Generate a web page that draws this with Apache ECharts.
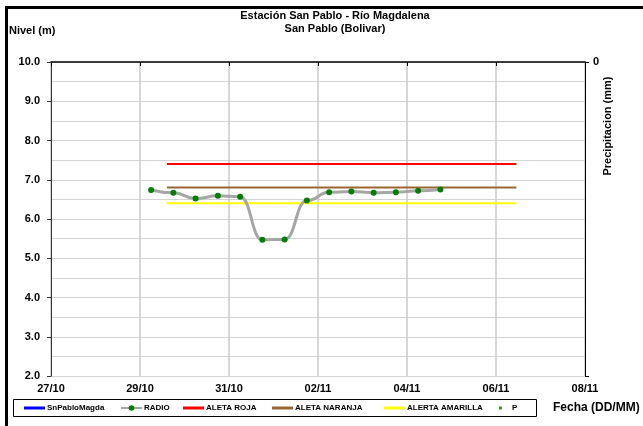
<!DOCTYPE html>
<html>
<head>
<meta charset="utf-8">
<script src="https://cdn.jsdelivr.net/npm/echarts@6/dist/echarts.min.js"></script>
<style>
html,body{margin:0;padding:0;background:#fff;}
#chart{width:643px;height:426px;}
</style>
</head>
<body>
<div id="chart"></div>
<script>
// ---- data ----
var YEAR = 2024;
var xTickLabels = ['27/10','29/10','31/10','02/11','04/11','06/11','08/11'];
var radioTimes = ['29/10 06:00','29/10 18:00','30/10 06:00','30/10 18:00','31/10 06:00','31/10 18:00',
                  '01/11 06:00','01/11 18:00','02/11 06:00','02/11 18:00','03/11 06:00','03/11 18:00',
                  '04/11 06:00','04/11 18:00'];
var radioValues = [6.74, 6.67, 6.52, 6.59, 6.57, 5.47, 5.48, 6.47, 6.68, 6.70, 6.67, 6.68, 6.72, 6.75];
var alertTimes = ['29/10 14:30','06/11 11:00'];
var alertaRoja = [7.4, 7.4];
var alertaNaranja = [6.8, 6.8];
var alertaAmarilla = [6.4, 6.4];
var snPabloValues = [];
var precipValues = [];

function parseT(s){
  var p = s.split(' '), dm = p[0].split('/'), hm = (p[1] || '00:00').split(':');
  return Date.UTC(YEAR, +dm[1]-1, +dm[0], +hm[0], +hm[1]);
}
function pairs(ts, vs){ return ts.map(function(t,i){ return [parseT(t), vs[i]]; }); }

var DAY = 86400000;
var xMin = parseT(xTickLabels[0]);
var xMax = parseT(xTickLabels[xTickLabels.length-1]);
var FONT = 'Liberation Sans, Arial, sans-serif';

var chart = echarts.init(document.getElementById('chart'));
function legendAt(name, left, extra){
  var o = {
    data:[name], left:left, top:404, itemWidth:21, itemHeight:7, itemGap:0,
    padding:0, selectedMode:false,
    textStyle:{fontSize:8, fontWeight:'bold', fontFamily:FONT, color:'#000', padding:[0,0,0,-3]}
  };
  for (var k in extra) o[k] = extra[k];
  return o;
}
var lineIcon = 'rect';
var option = {
  animation:false,
  backgroundColor:'#fff',
  grid:{left:51, right:58, top:62, bottom:50, containLabel:false},
  xAxis:{
    type:'value', min:xMin, max:xMax, interval:2*DAY,
    axisLine:{show:true, lineStyle:{color:'#000', width:1.5}},
    axisTick:{show:true, length:4, lineStyle:{color:'#000'}},
    axisLabel:{margin:7, fontSize:11, fontWeight:'bold', fontFamily:FONT, color:'#000',
      formatter:function(v){ var i=Math.round((v-xMin)/(2*DAY)); return xTickLabels[i]||''; }},
    splitLine:{show:true, lineStyle:{color:'#c8c8c8', width:1.5}}
  },
  yAxis:[{
    type:'value', min:2, max:10, interval:1,
    axisLine:{show:true, lineStyle:{color:'#333', width:1}},
    axisTick:{show:true, length:4, lineStyle:{color:'#333'}},
    axisLabel:{margin:11, fontSize:11, fontWeight:'bold', fontFamily:FONT, color:'#000',
      formatter:function(v){ return v.toFixed(1); }},
    splitLine:{show:true, lineStyle:{color:'#d4d4d4', width:1}},
    minorTick:{show:false, splitNumber:2},
    minorSplitLine:{show:true, lineStyle:{color:'#d4d4d4', width:1}}
  },{
    type:'value', min:0, max:10, interval:10, inverse:true, position:'right',
    axisLine:{show:true, lineStyle:{color:'#000', width:1}},
    axisTick:{show:true, length:4, lineStyle:{color:'#000'}},
    axisLabel:{margin:8, fontSize:11, fontWeight:'bold', fontFamily:FONT, color:'#000',
      formatter:function(v){ return v===0 ? '0' : ''; }},
    splitLine:{show:false}
  }],
  legend:[
    legendAt('SnPabloMagda', 24, {icon:lineIcon, itemHeight:3}),
    legendAt('RADIO', 120),
    legendAt('ALETA ROJA', 183, {icon:lineIcon, itemHeight:3}),
    legendAt('ALETA NARANJA', 272, {icon:lineIcon, itemHeight:3}),
    legendAt('ALERTA AMARILLA', 384, {icon:lineIcon, itemHeight:3}),
    legendAt('P', 499, {icon:'rect', itemWidth:3, itemHeight:3, textStyle:{fontSize:8, fontWeight:'bold', fontFamily:FONT, color:'#000', padding:[0,0,0,5]}})
  ],
  series:[
    {name:'SnPabloMagda', type:'line', data:pairs([], snPabloValues), symbol:'none',
     lineStyle:{color:'#0000ff', width:3}, itemStyle:{color:'#0000ff'}},
    {name:'RADIO', type:'line', data:pairs(radioTimes, radioValues), smooth:0.5, smoothMonotone:'x',
     symbol:'circle', symbolSize:6, z:5,
     lineStyle:{color:'#a6a6a6', width:3}, itemStyle:{color:'#008000'}},
    {name:'ALETA ROJA', type:'line', data:pairs(alertTimes, alertaRoja), symbol:'none',
     lineStyle:{color:'#ff0000', width:2}, itemStyle:{color:'#ff0000'}},
    {name:'ALETA NARANJA', type:'line', data:pairs(alertTimes, alertaNaranja), symbol:'none',
     lineStyle:{color:'#996633', width:2}, itemStyle:{color:'#996633'}},
    {name:'ALERTA AMARILLA', type:'line', data:pairs(alertTimes, alertaAmarilla), symbol:'none',
     lineStyle:{color:'#ffff00', width:2}, itemStyle:{color:'#ffff00'}},
    {name:'P', type:'scatter', yAxisIndex:1, data:pairs([], precipValues), symbol:'circle', symbolSize:3,
     itemStyle:{color:'#008000'}}
  ],
  graphic:[
    {type:'rect', shape:{x:5, y:6, width:3, height:420}, style:{fill:'#000'}, silent:true},
    {type:'rect', shape:{x:5, y:6, width:638, height:3}, style:{fill:'#000'}, silent:true},
    {type:'rect', shape:{x:13.5, y:399.5, width:523, height:17}, style:{fill:'none', stroke:'#000', lineWidth:1}, silent:true, z:-1},
    {type:'text', x:335, y:16, style:{text:'Estación San Pablo - Río Magdalena', fontSize:11, fontWeight:'bold', fontFamily:FONT, fill:'#000', textAlign:'center', textVerticalAlign:'middle'}},
    {type:'text', x:335, y:29, style:{text:'San Pablo (Bolivar)', fontSize:11, fontWeight:'bold', fontFamily:FONT, fill:'#000', textAlign:'center', textVerticalAlign:'middle'}},
    {type:'text', x:9, y:31, style:{text:'Nivel (m)', fontSize:11, fontWeight:'bold', fontFamily:FONT, fill:'#000', textAlign:'left', textVerticalAlign:'middle'}},
    {type:'text', x:608, y:126, rotation:Math.PI/2, style:{text:'Precipitacion (mm)', fontSize:11, fontWeight:'bold', fontFamily:FONT, fill:'#000', textAlign:'center', textVerticalAlign:'middle'}},
    {type:'text', x:553, y:408, style:{text:'Fecha (DD/MM)', fontSize:12, fontWeight:'bold', fontFamily:FONT, fill:'#000', textAlign:'left', textVerticalAlign:'middle'}}
  ]
};
chart.setOption(option);
</script>
</body>
</html>
